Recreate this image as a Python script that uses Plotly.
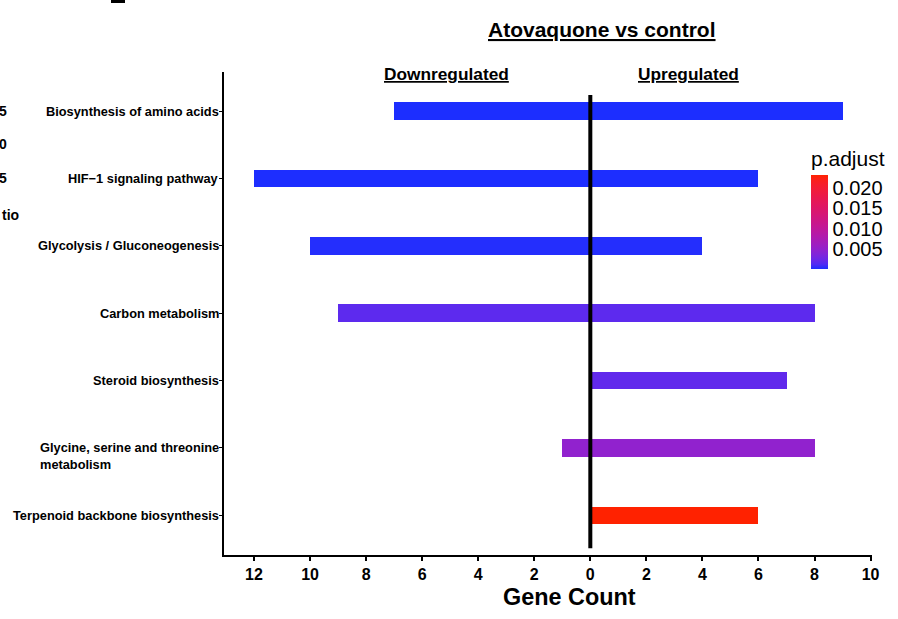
import plotly.graph_objects as go
import numpy as np

# ---- data ----
pathways = [
    "Biosynthesis of amino acids",
    "HIF\u22121 signaling pathway",
    "Glycolysis / Gluconeogenesis",
    "Carbon metabolism",
    "Steroid biosynthesis",
    "Glycine, serine and threonine<br>metabolism",
    "Terpenoid backbone biosynthesis",
]
down_counts = [7, 12, 10, 9, 0, 1, 0]
up_counts = [9, 6, 4, 8, 7, 8, 6]
p_adjust = [0.00002, 0.00005, 0.0002, 0.0017, 0.0019, 0.0048, 0.0232]
x_tick_vals = [-12, -10, -8, -6, -4, -2, 0, 2, 4, 6, 8, 10]
x_tick_text = ["<b>%d</b>" % abs(v) for v in x_tick_vals]
cbar_ticks = [0.005, 0.010, 0.015, 0.020]
edge_fragments = ["5", "0", "5", "tio"]

# ---- colour scale: Lab interpolation low blue -> high red (like ggplot) ----
def hex2rgb(h):
    h = h.lstrip('#')
    return [int(h[i:i+2], 16) / 255 for i in (0, 2, 4)]

def rgb2lab(c):
    c = np.array([((v + 0.055) / 1.055) ** 2.4 if v > 0.04045 else v / 12.92 for v in c])
    M = np.array([[0.4124, 0.3576, 0.1805], [0.2126, 0.7152, 0.0722], [0.0193, 0.1192, 0.9505]])
    xyz = M @ c / np.array([0.95047, 1.0, 1.08883])
    f = np.where(xyz > 0.008856, np.cbrt(xyz), 7.787 * xyz + 16 / 116)
    return np.array([116 * f[1] - 16, 500 * (f[0] - f[1]), 200 * (f[1] - f[2])])

def lab2rgb(lab):
    L, a, b = lab
    fy = (L + 16) / 116
    fx = fy + a / 500
    fz = fy - b / 200
    f = np.array([fx, fy, fz])
    xyz = np.where(f ** 3 > 0.008856, f ** 3, (f - 16 / 116) / 7.787) * np.array([0.95047, 1.0, 1.08883])
    Mi = np.array([[3.2406, -1.5372, -0.4986], [-0.9689, 1.8758, 0.0415], [0.0557, -0.2040, 1.0570]])
    c = Mi @ xyz
    c = np.where(c > 0.0031308, 1.055 * np.clip(c, 0, None) ** (1 / 2.4) - 0.055, 12.92 * c)
    c = np.clip(c, 0, 1)
    return "rgb(%d,%d,%d)" % tuple(int(round(v * 255)) for v in c)

lo = rgb2lab(hex2rgb("#1C2EFF"))
hi = rgb2lab(hex2rgb("#FF2200"))
colorscale = [[t, lab2rgb(lo + (hi - lo) * t)] for t in np.linspace(0, 1, 21)]

FONT = "Liberation Sans, Arial, sans-serif"

fig = go.Figure()
fig.add_trace(go.Bar(
    y=pathways, x=[-v for v in down_counts], orientation="h", width=0.26,
    marker=dict(color=p_adjust, coloraxis="coloraxis", line=dict(width=0)),
    name="Downregulated", showlegend=False,
))
fig.add_trace(go.Bar(
    y=pathways, x=up_counts, orientation="h", width=0.26,
    marker=dict(color=p_adjust, coloraxis="coloraxis", line=dict(width=0)),
    name="Upregulated", showlegend=False,
))

# zero line
fig.add_shape(type="line", xref="x", yref="y", x0=0, x1=0, y0=-0.24, y1=6.49,
              line=dict(color="black", width=4))

W, H = 898, 619
L, R, T, B = 224, 26, 72, 64
pw, ph = 648, 483

def px(x):  # page pixel -> paper x
    return (x - 224) / pw

def py(y):  # page pixel -> paper y
    return (555 - y) / ph

annotations = []
# y labels
for i, name in enumerate(pathways):
    multi = "<br>" in name
    annotations.append(dict(
        text="<b>%s</b>" % name, xref="paper", yref="y", x=0, y=name,
        xanchor="right", yanchor="middle", align="left", xshift=-3,
        yshift=-8 if multi else 0, showarrow=False,
        font=dict(family=FONT, size=12.8, color="black"),
    ))
annotations += [
    dict(text="<b><u>Atovaquone vs control</u></b>", x=px(602), y=py(29), xref="paper", yref="paper",
         xanchor="center", yanchor="middle",
         showarrow=False, font=dict(family=FONT, size=21, color="black")),
    dict(text="<b><u>Downregulated</u></b>", x=px(446), y=py(74), xref="paper", yref="paper",
         xanchor="center", yanchor="middle",
         showarrow=False, font=dict(family=FONT, size=17.3, color="black")),
    dict(text="<b><u>Upregulated</u></b>", x=px(688), y=py(74), xref="paper", yref="paper",
         xanchor="center", yanchor="middle",
         showarrow=False, font=dict(family=FONT, size=17.3, color="black")),
    dict(text="<b>Gene Count</b>", x=px(569), y=py(597), xref="paper", yref="paper",
         xanchor="center", yanchor="middle",
         showarrow=False, font=dict(family=FONT, size=23.4, color="black")),
]
# fragments of a neighbouring panel at the left edge
for txt, yy, xr in zip(edge_fragments, [111, 144, 178, 215], [9, 9, 9, 21]):
    annotations.append(dict(text="<b>%s</b>" % txt, x=px(xr), y=py(yy), xref="paper", yref="paper",
                            xanchor="right", yanchor="middle", showarrow=False,
                            font=dict(family=FONT, size=14, color="black")))

fig.add_shape(type="rect", xref="paper", yref="paper", x0=px(111), x1=px(125), y0=py(3), y1=py(-2),
              fillcolor="black", line=dict(width=0))

fig.update_layout(
    width=W, height=H,
    margin=dict(l=L, r=R, t=T, b=B),
    paper_bgcolor="white", plot_bgcolor="white",
    barmode="overlay", bargap=0,
    annotations=annotations,
    font=dict(family=FONT, color="black"),
    coloraxis=dict(
        colorscale=colorscale, cmin=min(p_adjust), cmax=max(p_adjust),
        colorbar=dict(
            title=dict(text="p.adjust", side="top", font=dict(family=FONT, size=21, color="black")),
            x=px(811), xanchor="left", y=py(269), yanchor="bottom",
            thickness=17, thicknessmode="pixels", len=122, lenmode="pixels",
            outlinewidth=0, ticks="", tickvals=cbar_ticks, tickformat=".3f",
            tickfont=dict(family=FONT, size=20, color="black"),
            xpad=0, ypad=0,
        ),
    ),
    xaxis=dict(
        range=[-13.07, 10.05], tickvals=x_tick_vals, ticktext=x_tick_text,
        showline=True, linecolor="black", linewidth=2, showgrid=False, zeroline=False,
        ticks="outside", ticklen=4, tickwidth=2, tickcolor="black",
        tickfont=dict(family=FONT, size=16, color="black"),
    ),
    yaxis=dict(
        categoryorder="array", categoryarray=pathways, range=[6.59, -0.58],
        showline=True, linecolor="black", linewidth=2, showgrid=False, zeroline=False,
        ticks="outside", ticklen=3, tickwidth=1, tickcolor="black", showticklabels=False,
    ),
)

fig.write_html("out.html", config={"displayModeBar": False},
               post_script="document.body.style.margin='0';")
